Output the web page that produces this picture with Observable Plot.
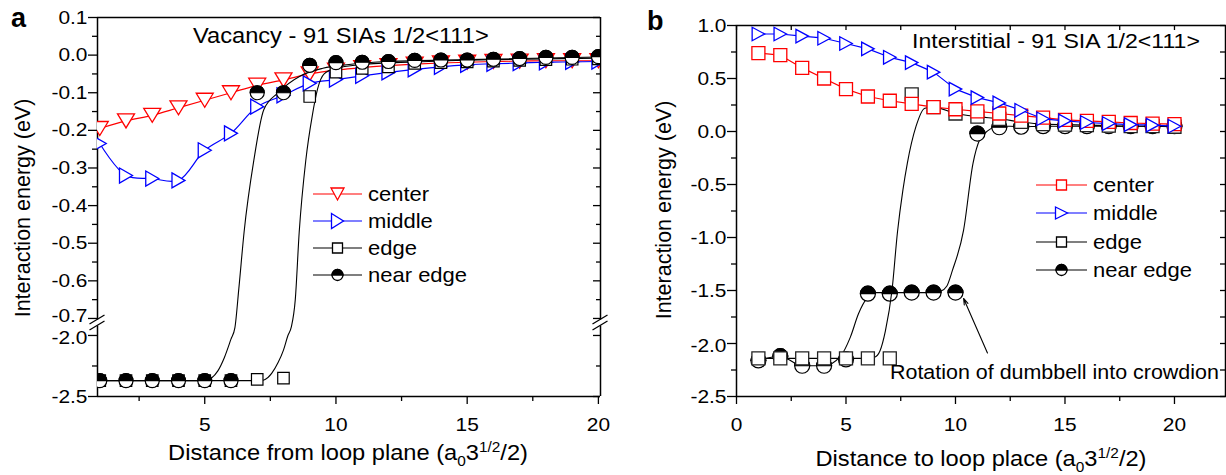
<!DOCTYPE html>
<html><head><meta charset="utf-8">
<script src="https://cdn.jsdelivr.net/npm/d3@7"></script>
<script src="https://cdn.jsdelivr.net/npm/@observablehq/plot@0.6"></script>
<style>
body{margin:0;background:#fff;}
#wrap{position:relative;width:1226px;height:475px;overflow:hidden;background:#fff;}
#wrap svg{position:absolute;top:0;}
</style></head><body><div id="wrap"></div>
<script>
// ---------------- data ----------------
const distance = [1,2,3,4,5,6,7,8,9,10,11,12,13,14,15,16,17,18,19,20];

// Panel a: Vacancy - 91 SIAs 1/2<111>
const vacCenter   = [-0.195,-0.175,-0.16,-0.14,-0.12,-0.10,-0.08,-0.066,-0.05,-0.04,-0.033,-0.028,-0.024,-0.021,-0.019,-0.017,-0.016,-0.015,-0.015,-0.015];
const vacMiddle   = [-0.235,-0.32,-0.328,-0.333,-0.253,-0.208,-0.137,-0.107,-0.075,-0.065,-0.055,-0.046,-0.038,-0.031,-0.026,-0.023,-0.021,-0.019,-0.018,-0.017];
const vacEdge     = [-2.37,-2.37,-2.37,-2.37,-2.37,-2.37,-2.36,-2.35,-0.11,-0.045,-0.035,-0.031,-0.022,-0.02,-0.018,-0.016,-0.014,-0.012,-0.011,-0.01];
const vacNearEdge = [-2.37,-2.37,-2.37,-2.37,-2.37,-2.37,-0.10,-0.10,-0.027,-0.02,-0.019,-0.017,-0.014,-0.013,-0.013,-0.011,-0.009,-0.006,-0.006,-0.004];
// fitted curves
const vacEdgeFitX = [0.9,7.1,7.3,7.55,7.8,8.0,8.17,8.3,8.45,8.6,8.85,9.1,9.3,9.55,10,11,13,16,20];
const vacEdgeFitY = [-2.37,-2.37,-2.36,-2.31,-2.22,-2.12,-2.0,-1.35,-0.65,-0.47,-0.28,-0.16,-0.09,-0.05,-0.035,-0.025,-0.018,-0.012,-0.008];
const vacNearFitX = [0.9,5.0,5.25,5.5,5.75,6.0,6.15,6.3,6.5,6.87,7.25,7.8,8.66,9.5,10.5,12,15,20];
const vacNearFitY = [-2.37,-2.37,-2.35,-2.29,-2.18,-2.03,-1.4,-0.62,-0.47,-0.28,-0.145,-0.1,-0.055,-0.035,-0.025,-0.017,-0.012,-0.005];

// Panel b: Interstitial - 91 SIA 1/2<111>
const intCenter   = [0.74,0.72,0.60,0.50,0.40,0.33,0.29,0.26,0.23,0.21,0.19,0.17,0.15,0.13,0.11,0.10,0.09,0.08,0.075,0.07];
const intMiddle   = [0.92,0.92,0.90,0.88,0.83,0.78,0.70,0.65,0.56,0.40,0.32,0.27,0.20,0.12,0.10,0.085,0.075,0.065,0.06,0.05];
const intEdge     = [-2.14,-2.14,-2.14,-2.14,-2.14,-2.14,-2.14,0.35,0.23,0.17,0.14,0.12,0.09,0.07,0.065,0.06,0.055,0.05,0.05,0.045];
const intNearEdge = [-2.16,-2.12,-2.21,-2.21,-2.15,-1.53,-1.53,-1.52,-1.52,-1.52,-0.02,0.04,0.045,0.05,0.05,0.05,0.05,0.05,0.05,0.05];
const intEdgeFitX = [1,6,6.3,6.55,6.8,7.1,7.35,7.6,7.8,8.2,8.6,9,10,11,12,13,14,15,16,17,18,19,20];
const intEdgeFitY = [-2.14,-2.14,-2.13,-2.07,-1.88,-1.5,-0.95,-0.55,-0.3,0.05,0.22,0.23,0.17,0.14,0.12,0.09,0.07,0.065,0.06,0.055,0.05,0.05,0.045];
const intNearFitX = [1,2,3,4,4.75,5.2,5.57,5.97,6.4,7,8,9,9.3,9.6,9.86,10.37,10.8,11.1,11.5,11.9,12.5,13,14,15,16,17,18,19,20];
const intNearFitY = [-2.16,-2.12,-2.21,-2.21,-2.12,-1.94,-1.72,-1.57,-1.52,-1.52,-1.52,-1.52,-1.51,-1.46,-1.31,-0.93,-0.3,-0.08,0.01,0.05,0.05,0.045,0.05,0.05,0.05,0.05,0.05,0.05,0.05];

// axis ticks
const aYMajor = [0.1,0,-0.1,-0.2,-0.3,-0.4,-0.5,-0.6,-0.7,-2.0,-2.5];
const aYMinor = [0.05,-0.05,-0.15,-0.25,-0.35,-0.45,-0.55,-0.65,-2.25];
const aXMajor = [5,10,15,20];
const aXMinor = [2.5,7.5,12.5,17.5];
const bYMajor = [1.0,0.5,0,-0.5,-1.0,-1.5,-2.0,-2.5];
const bYMinor = [0.75,0.25,-0.25,-0.75,-1.25,-1.75,-2.25];
const bXMajor = [0,5,10,15,20];
const bXMinor = [2.5,7.5,12.5,17.5];

// texts
const seriesNames = ["center","middle","edge","near edge"];
const titleA = "Vacancy - 91 SIAs 1/2<111>";
const titleB = "Interstitial - 91 SIA 1/2<111>";
const yTitle = "Interaction energy (eV)";
const xTitleA = "Distance from loop plane";
const xTitleB = "Distance to loop place";
const annText = "Rotation of dumbbell into crowdion";
const annArrow = [{x1: 11.46, y1: -2.09, x2: 10.37, y2: -1.575}];

// ---------------- helpers ----------------
const FONT = '"Liberation Sans", Arial, Helvetica, sans-serif';
const SX = 1.1;           // horizontal stretch of lettering in the reference
const RED = "#ff0000", BLUE = "#0000ff", BLK = "#000000";

// broken y axis of panel a: top segment 0.1..-0.7, lower segment -2.0..-2.5
const GAP = 17/376, LOWR = 122/376;
const yA = v => v >= -0.7 ? v : (v <= -2.0 ? -0.7 - GAP - (-2.0 - v) * LOWR : -0.7 - GAP * ((-0.7 - v) / 1.3));
const yAinv = d => d >= -0.7 - 1e-9 ? d : (d <= -0.7 - GAP + 1e-9 ? -2.0 - (-0.7 - GAP - d) / LOWR : -0.7 - (-0.7 - d) / GAP * 1.3);
const fmt1 = v => (Math.round(v * 100) / 100).toFixed(1).replace(/^-0\.0$/, "0.0");

const rows = (xs, ys, tf = v => v) => xs.map((x, i) => ({x, y: tf(ys[i])}));

const sym = {
  triDown: (w, h) => ({draw(c) { c.moveTo(-w/2, -h/2); c.lineTo(w/2, -h/2); c.lineTo(0, h/2); c.closePath(); }}),
  triRight: (w, h) => ({draw(c) { c.moveTo(-w/2, -h/2); c.lineTo(w/2, 0); c.lineTo(-w/2, h/2); c.closePath(); }}),
  square: s => ({draw(c) { c.rect(-s/2, -s/2, s, s); }}),
  circle: r => ({draw(c) { c.moveTo(r, 0); c.arc(0, 0, r, 0, 2 * Math.PI); c.closePath(); }}),
  halfTop: r => ({draw(c) { c.moveTo(r, 0); c.arc(0, 0, r, 0, Math.PI, true); c.closePath(); }})
};

function axisBreak(xv, ydv) {
  return (index, scales) => {
    const px = scales.x(xv), py = scales.y(ydv);
    const g = d3.create("svg:g");
    g.append("path")
      .attr("d", `M${px-7.5},${py+1.5}L${px+7.5},${py-7.5}M${px-7.5},${py+7.5}L${px+7.5},${py-1.5}`)
      .attr("stroke", BLK).attr("stroke-width", 1.3).attr("fill", "none");
    return g.node();
  };
}

function stretchTicks(svg) {
  svg.querySelectorAll('g[aria-label$="tick label"] text').forEach(t => {
    const tr = t.getAttribute("transform") || "";
    const x = parseFloat(t.getAttribute("x")) || 0;
    // the two labels at the axis break sit close together; spread them a touch
    const shift = t.textContent === "-0.7" ? -2.5 : t.textContent === "-2.0" ? 2.5 : 0;
    t.setAttribute("transform", `translate(0,${shift}) ${tr} translate(${x},0) scale(${SX},1) translate(${-x},0)`);
  });
}

const plotStyle = {fontFamily: FONT, fontSize: "19px", background: "transparent", overflow: "visible", color: "#000"};

// ---------------- panel a ----------------
const xDomA = [0.914, 20.08];
const yBreakA = yA(-0.7) - 0.012;
const eps = 3 / 376;
const plotA = Plot.plot({
  width: 615, height: 475,
  marginLeft: 97, marginRight: 15, marginTop: 17, marginBottom: 79,
  x: {domain: xDomA, axis: null},
  y: {domain: [yA(-2.5), 0.1], axis: null},
  style: plotStyle,
  marks: [
    // frame with broken verticals
    Plot.ruleY([0.1, yA(-2.5)], {stroke: BLK, strokeWidth: 1.5}),
    Plot.ruleX([xDomA[0], xDomA[1]], {y1: yA(-2.5), y2: yBreakA - eps, stroke: BLK, strokeWidth: 1.5}),
    Plot.ruleX([xDomA[0], xDomA[1]], {y1: yBreakA + eps, y2: 0.1, stroke: BLK, strokeWidth: 1.5}),
    axisBreak(xDomA[0], yBreakA),
    axisBreak(xDomA[1], yBreakA),
    // axes
    Plot.axisX({ticks: aXMajor, tickSize: 8, tickPadding: 13, tickFormat: d => String(d), label: null, strokeWidth: 1.3}),
    Plot.axisX({ticks: aXMinor, tickSize: 5, tickFormat: () => "", label: null, strokeWidth: 1.3}),
    Plot.axisY({ticks: aYMajor.map(yA), tickSize: 9, tickPadding: 1, tickFormat: d => fmt1(yAinv(d)), label: null, strokeWidth: 1.3}),
    Plot.axisY({ticks: aYMinor.map(yA), tickSize: 5, tickFormat: () => "", label: null, strokeWidth: 1.3}),
    Plot.tickY(aYMajor.map(yA), {y: d => d, insetLeft: 503 - 7, stroke: BLK, strokeWidth: 1.3}),
    Plot.tickY(aYMinor.map(yA), {y: d => d, insetLeft: 503 - 4, stroke: BLK, strokeWidth: 1.3}),
    // center
    Plot.line(rows(distance, vacCenter, yA), {x: "x", y: "y", stroke: RED, strokeWidth: 1.2, curve: "catmull-rom", clip: true}),
    Plot.dot(rows(distance, vacCenter, yA), {x: "x", y: "y", symbol: sym.triDown(17, 14), r: 6, stroke: RED, fill: "white", strokeWidth: 1.3, clip: true}),
    // middle
    Plot.line(rows(distance, vacMiddle, yA), {x: "x", y: "y", stroke: BLUE, strokeWidth: 1.2, curve: "catmull-rom", clip: true}),
    Plot.dot(rows(distance, vacMiddle, yA), {x: "x", y: "y", symbol: sym.triRight(13, 15), r: 6, stroke: BLUE, fill: "white", strokeWidth: 1.3, clip: true}),
    // edge
    Plot.line(rows(vacEdgeFitX, vacEdgeFitY, yA), {x: "x", y: "y", stroke: BLK, strokeWidth: 1.1, curve: "monotone-x", clip: true}),
    Plot.dot(rows(distance, vacEdge, yA), {x: "x", y: "y", symbol: sym.square(11.5), r: 6, stroke: BLK, fill: "white", strokeWidth: 1.2, clip: true}),
    // near edge
    Plot.line(rows(vacNearFitX, vacNearFitY, yA), {x: "x", y: "y", stroke: BLK, strokeWidth: 1.1, curve: "monotone-x", clip: true}),
    Plot.dot(rows(distance, vacNearEdge, yA), {x: "x", y: "y", symbol: sym.circle(7), r: 7, stroke: BLK, fill: "white", strokeWidth: 1.2, clip: true}),
    Plot.dot(rows(distance, vacNearEdge, yA), {x: "x", y: "y", symbol: sym.halfTop(7), r: 7, stroke: BLK, fill: BLK, strokeWidth: 1.2, clip: true})
  ]
});
plotA.style.left = "0px";

// ---------------- panel b ----------------
const xDomB = [0, 22.33];
const plotB = Plot.plot({
  width: 611, height: 475,
  marginLeft: 121, marginRight: 1, marginTop: 25, marginBottom: 79,
  x: {domain: xDomB, axis: null},
  y: {domain: [-2.5, 1.0], axis: null},
  style: plotStyle,
  marks: [
    Plot.frame({stroke: BLK, strokeWidth: 1.5}),
    Plot.axisX({ticks: bXMajor, tickSize: 8, tickPadding: 13, tickFormat: d => String(d), label: null, strokeWidth: 1.3}),
    Plot.axisX({ticks: bXMinor, tickSize: 5, tickFormat: () => "", label: null, strokeWidth: 1.3}),
    Plot.axisY({ticks: bYMajor, tickSize: 9, tickPadding: 1, tickFormat: d => fmt1(d), label: null, strokeWidth: 1.3}),
    Plot.axisY({ticks: bYMinor, tickSize: 5, tickFormat: () => "", label: null, strokeWidth: 1.3}),
    Plot.tickX(bXMajor.concat(bXMinor), {x: d => d, insetBottom: 371 - 5, stroke: BLK, strokeWidth: 1.3}),
    Plot.tickY(bYMajor.concat(bYMinor), {y: d => d, insetLeft: 489 - 5, stroke: BLK, strokeWidth: 1.3}),
    // near edge
    Plot.line(rows(intNearFitX, intNearFitY), {x: "x", y: "y", stroke: BLK, strokeWidth: 1.1, curve: "monotone-x"}),
    Plot.dot(rows(distance, intNearEdge), {x: "x", y: "y", symbol: sym.circle(7.5), r: 7, stroke: BLK, fill: "white", strokeWidth: 1.2}),
    Plot.dot(rows(distance, intNearEdge), {x: "x", y: "y", symbol: sym.halfTop(7.5), r: 7, stroke: BLK, fill: BLK, strokeWidth: 1.2}),
    // edge
    Plot.line(rows(intEdgeFitX, intEdgeFitY), {x: "x", y: "y", stroke: BLK, strokeWidth: 1.1, curve: "monotone-x"}),
    Plot.dot(rows(distance, intEdge), {x: "x", y: "y", symbol: sym.square(13), r: 6, stroke: "#222", fill: "white", strokeWidth: 1.3}),
    // center
    Plot.line(rows(distance, intCenter), {x: "x", y: "y", stroke: RED, strokeWidth: 1.2}),
    Plot.dot(rows(distance, intCenter), {x: "x", y: "y", symbol: sym.square(13), r: 6, stroke: RED, fill: "white", strokeWidth: 1.3}),
    // middle
    Plot.line(rows(distance, intMiddle), {x: "x", y: "y", stroke: BLUE, strokeWidth: 1.2}),
    Plot.dot(rows(distance, intMiddle), {x: "x", y: "y", symbol: sym.triRight(12.5, 13.5), r: 6, stroke: BLUE, fill: "white", strokeWidth: 1.3}),
    // annotation arrow
    Plot.arrow(annArrow, {x1: "x1", y1: "y1", x2: "x2", y2: "y2", stroke: BLK, strokeWidth: 1.1, headLength: 9, headAngle: 35})
  ]
});
plotB.style.left = "615px";

const wrap = document.getElementById("wrap");
wrap.appendChild(plotA);
wrap.appendChild(plotB);
stretchTicks(plotA);
stretchTicks(plotB);

// ---------------- text overlay: titles, axis titles, legends ----------------
const ov = d3.create("svg").attr("width", 1226).attr("height", 475)
  .style("left", "0px").style("font-family", FONT).style("pointer-events", "none");

function label(x, y, s, size, anchor = "start", weight = "normal", stretch = SX) {
  return ov.append("text").attr("transform", `translate(${x},${y}) scale(${stretch},1)`)
    .attr("text-anchor", anchor).attr("font-size", size).attr("font-weight", weight).attr("fill", BLK).text(s);
}
function xTitle(cx, by, prefix) {
  const t = ov.append("text").attr("transform", `translate(${cx},${by}) scale(${SX},1)`)
    .attr("text-anchor", "middle").attr("font-size", 21.5).attr("fill", BLK);
  t.append("tspan").text(prefix + " (a");
  t.append("tspan").attr("font-size", 14).attr("dy", 6).text("0");
  t.append("tspan").attr("dy", -6).text("3");
  t.append("tspan").attr("font-size", 14).attr("dy", -8).text("1/2");
  t.append("tspan").attr("dy", 8).text("/2)");
}
function yTitleAt(x, cy) {
  ov.append("text").attr("transform", `translate(${x},${cy}) rotate(-90)`)
    .attr("text-anchor", "middle").attr("font-size", 21.5).attr("fill", BLK).text(yTitle);
}
function symPath(s) { const p = d3.path(); s.draw(p, 0); return p.toString(); }
function legendRow(x0, x1, y, color, markers, text) {
  ov.append("line").attr("x1", x0).attr("x2", x1).attr("y1", y).attr("y2", y).attr("stroke", color).attr("stroke-width", 1.2);
  const cx = (x0 + x1) / 2;
  for (const m of markers) {
    ov.append("path").attr("d", symPath(m.s)).attr("transform", `translate(${cx},${y})`)
      .attr("fill", m.fill).attr("stroke", color).attr("stroke-width", 1.3);
  }
  label(x1 + 6, y + 7, text, 20);
}

// panel letters
label(11, 27, "a", 27, "start", "bold", 1);
label(647, 30, "b", 27, "start", "bold", 1);
// panel titles
label(193, 43, titleA, 21.5);
label(912, 48, titleB, 21);
// axis titles
yTitleAt(30, 208);
yTitleAt(671, 210);
xTitle(348, 460, xTitleA);
xTitle(981, 466, xTitleB);
// annotation
label(890, 379, annText, 19.5);

// legends
const legA = [194, 221, 248, 275];
legendRow(313, 362, legA[0], RED, [{s: sym.triDown(13, 12), fill: "white"}], seriesNames[0]);
legendRow(313, 362, legA[1], BLUE, [{s: sym.triRight(12, 15), fill: "white"}], seriesNames[1]);
legendRow(313, 362, legA[2], BLK, [{s: sym.square(10), fill: "white"}], seriesNames[2]);
legendRow(313, 362, legA[3], BLK, [{s: sym.circle(5.5), fill: "white"}, {s: sym.halfTop(5.5), fill: BLK}], seriesNames[3]);
const legB = [185, 213, 242, 270];
legendRow(1036, 1087, legB[0], RED, [{s: sym.square(10), fill: "white"}], seriesNames[0]);
legendRow(1036, 1087, legB[1], BLUE, [{s: sym.triRight(12, 12), fill: "white"}], seriesNames[1]);
legendRow(1036, 1087, legB[2], BLK, [{s: sym.square(10), fill: "white"}], seriesNames[2]);
legendRow(1036, 1087, legB[3], BLK, [{s: sym.circle(5.5), fill: "white"}, {s: sym.halfTop(5.5), fill: BLK}], seriesNames[3]);

wrap.appendChild(ov.node());
</script>
</body></html>
